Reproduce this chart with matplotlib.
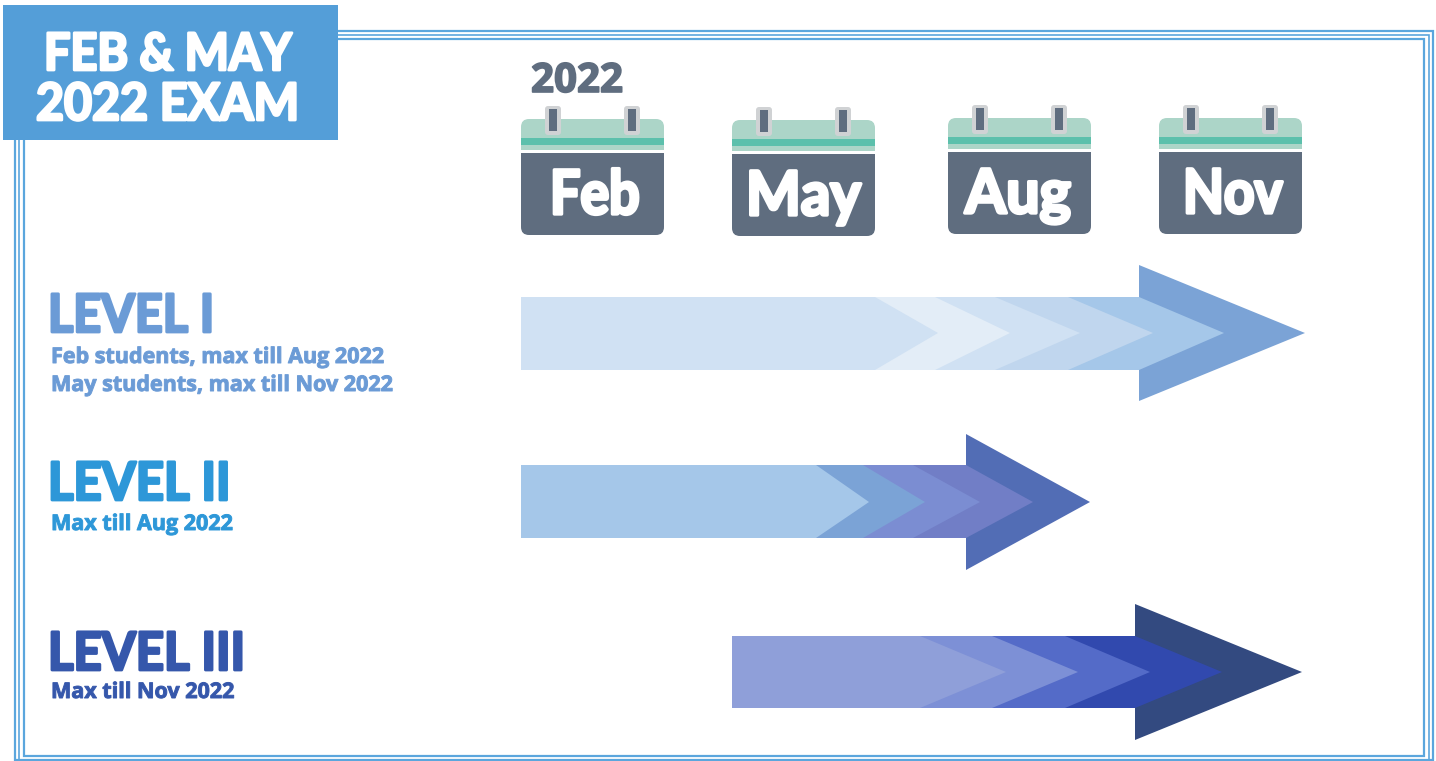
import matplotlib
matplotlib.use("Agg")
import matplotlib.pyplot as plt
import matplotlib.patheffects as pe
from matplotlib.patches import PathPatch, Polygon, Rectangle
from matplotlib.path import Path
from matplotlib.transforms import Affine2D

HEAD_FONT = "Lato"
SUB_FONT = "Open Sans"

# calendars
months = ["Feb", "May", "Aug", "Nov"]
cal_left = [521, 732, 948, 1159]
cal_top = [119, 120, 118, 118]
month_x = [550, 746, 965, 1183]
month_sx = [0.88, 0.95, 0.97, 0.87]

# arrows: notch starts, chevron tips and colours, back layer first
level_names = ["LEVEL I", "LEVEL II", "LEVEL III"]
level_colors = ["#6b9bd6", "#2d97d8", "#3557ab"]
level_sx = [0.92, 0.93, 0.93]
level_subs = [
    ["Feb students, max till Aug 2022", "May students, max till Nov 2022"],
    ["Max till Aug 2022"],
    ["Max till Nov 2022"],
]
arrow_start = [
    [521, 875, 935, 995, 1068],
    [521, 816, 863, 913],
    [732, 920, 992, 1065],
]
arrow_tips = [
    [938, 1010, 1080, 1153, 1224],
    [869, 925, 980, 1033],
    [1006, 1078, 1150, 1222],
]
arrow_colors = [
    ["#d0e1f3", "#e3edf7", "#d0e1f3", "#c0d6ee", "#a5c7e9"],
    ["#a5c7e9", "#7ba3d6", "#7b8dd2", "#717ec6"],
    ["#8f9fd9", "#7d90d6", "#546bc8", "#3149ae"],
]
head_base = [1139, 966, 1135]
head_tip = [1305, 1090, 1302]
head_color = ["#7ba3d6", "#526db5", "#334a80"]
body_y = [(297, 370), (465, 538), (636, 708)]
head_y = [(265, 401), (434, 570), (604, 740)]
name_base = [332, 500, 670]
sub_base = [[363, 391], [530], [698]]

fig = plt.figure(figsize=(14.36, 7.61), dpi=100)
ax = fig.add_axes([0, 0, 1, 1])
ax.set_xlim(0, 1436)
ax.set_ylim(761, 0)
ax.axis("off")


class Squeezed(pe.AbstractPathEffect):
    # heavier, narrower glyphs, since no installed font is as black and condensed
    def __init__(self, sx, lw):
        super().__init__()
        self.sx = sx
        self.lw = lw

    def draw_path(self, renderer, gc, tpath, affine, rgbFace=None):
        gc0 = renderer.new_gc()
        gc0.copy_properties(gc)
        gc0.set_linewidth(self.lw)
        gc0.set_foreground(rgbFace)
        renderer.draw_path(gc0, tpath, Affine2D().scale(self.sx, 1) + affine, rgbFace)
        gc0.restore()


def label(x, y, s, size, color, font=HEAD_FONT, sx=1.0, stroke=2.0):
    t = ax.text(x, y, s, fontsize=size, color=color, ha="left", va="baseline",
                family=font, fontweight="bold", zorder=5)
    t.set_path_effects([Squeezed(sx, stroke)])
    return t


def rounded(x0, y0, x1, y1, r_top, r_bot, **kw):
    verts = [(x0 + r_top, y0), (x1 - r_top, y0), (x1, y0), (x1, y0 + r_top),
             (x1, y1 - r_bot), (x1, y1), (x1 - r_bot, y1),
             (x0 + r_bot, y1), (x0, y1), (x0, y1 - r_bot),
             (x0, y0 + r_top), (x0, y0), (x0 + r_top, y0), (x0 + r_top, y0)]
    codes = [Path.MOVETO, Path.LINETO, Path.CURVE3, Path.CURVE3,
             Path.LINETO, Path.CURVE3, Path.CURVE3,
             Path.LINETO, Path.CURVE3, Path.CURVE3,
             Path.LINETO, Path.CURVE3, Path.CURVE3, Path.CLOSEPOLY]
    ax.add_patch(PathPatch(Path(verts, codes), ec="none", **kw))


# triple frame
for x0, y0, x1, y1, lw in [(15, 31, 1433, 760, 1.6), (19, 35, 1429, 760, 1.2), (24, 39, 1424, 756, 1.6)]:
    ax.add_patch(Rectangle((x0, y0), x1 - x0, y1 - y0, fill=False, ec="#5ba6dd", lw=lw))

# title box
ax.add_patch(Rectangle((3, 5), 335, 135, fc="#549ed8", ec="none", zorder=3))
label(44, 70, "FEB & MAY", 37, "white", sx=0.91)
label(36, 120, "2022 EXAM", 37, "white", sx=0.94)

label(531, 92, "2022", 29, "#5f6d7f", font=SUB_FONT, stroke=1.2)

# calendars
for name, left, top, mx, msx in zip(months, cal_left, cal_top, month_x, month_sx):
    rounded(left, top, left + 143, top + 31, 8, 0, fc="#acd5c8")
    ax.add_patch(Rectangle((left, top + 19), 143, 7, fc="#5cc0ac", ec="none"))
    rounded(left, top + 34, left + 143, top + 116, 0, 8, fc="#5f6d7f")
    for off in (32, 111):
        rounded(left + off - 8, top - 13, left + off + 8, top + 16, 3, 3, fc="#d0d2d4")
        ax.add_patch(Rectangle((left + off - 4, top - 10), 8, 22, fc="#5f6d7f", ec="none"))
    label(mx, top + 95, name, 44, "white", sx=msx, stroke=2.4)

# arrows
for i in range(3):
    top, bot = body_y[i]
    htop, hbot = head_y[i]
    mid = (htop + hbot) / 2
    ax.add_patch(Polygon([(head_base[i], htop), (head_tip[i], mid), (head_base[i], hbot)],
                         fc=head_color[i], ec="none"))
    starts = arrow_start[i]
    ends = starts[1:] + [head_base[i]]
    for j in range(len(starts) - 1, -1, -1):
        ax.add_patch(Polygon([(starts[j], top), (ends[j], top), (arrow_tips[i][j], mid),
                              (ends[j], bot), (starts[j], bot)], fc=arrow_colors[i][j], ec="none"))

    label(48, name_base[i], level_names[i], 38, level_colors[i], sx=level_sx[i])
    for s, y in zip(level_subs[i], sub_base[i]):
        label(51, y, s, 15.5, level_colors[i], font=SUB_FONT, stroke=0.7)

fig.savefig("out.png", dpi=100)
